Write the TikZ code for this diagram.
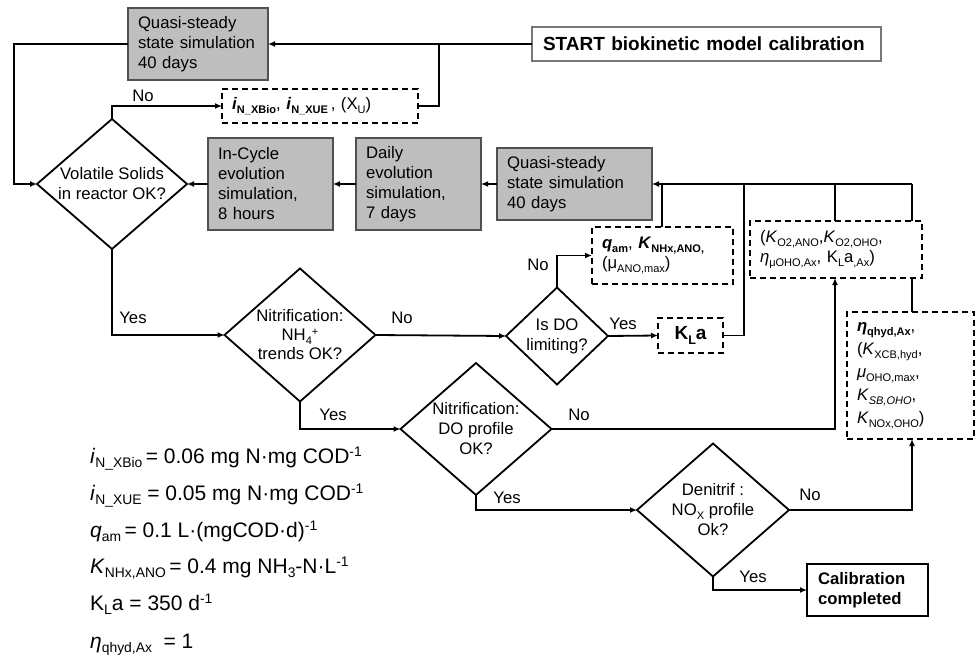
\documentclass[tikz,border=0pt]{standalone}
\usepackage{fontspec}
\setmainfont{Liberation Sans}
\usetikzlibrary{shapes.geometric,arrows.meta}
\definecolor{boxgray}{RGB}{190,190,190}
\definecolor{boxborder}{RGB}{80,80,80}
\definecolor{startborder}{RGB}{120,120,120}
\newcommand\fs{\fontsize{16.7}{20}\selectfont}
\newcommand\fbig{\fontsize{21}{25}\selectfont}
\makeatletter
\newcommand\smallsz{\fontsize{\strip@pt\dimexpr0.66\dimexpr\f@size pt\relax\relax}{1}\selectfont}
\newcommand\sbs[1]{\raisebox{-0.22em}{\smallsz #1}}
\newcommand\sps[1]{\raisebox{0.32em}{\smallsz #1}}
\makeatother
\tikzset{
  graybox/.style={draw=boxborder, line width=1.3pt, fill=boxgray, anchor=north west,
    inner xsep=10pt, inner ysep=0pt, outer sep=0pt, align=left, font=\fs},
  dbox/.style={draw, dash pattern=on 6pt off 4pt, line width=1.5pt, anchor=north west,
    inner xsep=10pt, inner ysep=0pt, outer sep=0pt, align=left, font=\fs},
  dia/.style={draw, diamond, line width=1.8pt, inner sep=0pt, outer sep=0pt},
  conn/.style={line width=1.8pt},
  arr/.style={line width=1.8pt, -{Latex[length=7pt,width=6pt]}},
  lab/.style={font=\fs, inner sep=0pt},
  eqn/.style={font=\fbig, anchor=base west, inner sep=0pt}
}
\begin{document}
\begin{tikzpicture}[x=1pt,y=-1pt]
\useasboundingbox (0,0) rectangle (976,655);

% boxes
\node[graybox, minimum width=140pt, minimum height=72pt, text width=120pt] (q1) at (128,8)
  {Quasi-steady\\state simulation\\40 days};
\node[draw=startborder, line width=1.2pt, anchor=north west, minimum width=349pt, minimum height=34pt,
  inner xsep=11pt, inner ysep=0pt, outer sep=0pt, text width=327pt, align=left,
  font=\fontsize{19}{22}\selectfont\bfseries] (start) at (532,27)
  {START biokinetic model calibration};
\node[dbox, minimum width=196pt, minimum height=34pt, text width=176pt, inner xsep=10pt] (in) at (222,89)
  {\textbf{\textit{i}\sbs{N\_XBio}}, \textbf{\textit{i}\sbs{N\_XUE}}\,, (X\sbs{U})};
\node[graybox, minimum width=125pt, minimum height=92pt, text width=105pt] (ic) at (208,138)
  {In-Cycle\\evolution\\simulation,\\8 hours};
\node[graybox, minimum width=125pt, minimum height=92pt, text width=105pt] (daily) at (356,138)
  {Daily\\evolution\\simulation,\\7 days};
\node[graybox, minimum width=155pt, minimum height=72pt, text width=135pt] (q2) at (497,148)
  {Quasi-steady\\state simulation\\40 days};
\node[dbox, minimum width=141pt, minimum height=57pt, text width=121pt] (qam) at (592,227)
  {\textbf{\textit{q}\sbs{am}}, \textbf{\textit{K}\sbs{NHx,ANO,}}\\(μ\sbs{ANO,max})};
\node[dbox, minimum width=172pt, minimum height=57pt, text width=152pt] (ko) at (750,221)
  {(\textit{K}\sbs{O2,ANO},\textit{K}\sbs{O2,OHO},\\\textit{η}\sbs{μOHO,Ax}, K\sbs{L}a\sbs{,Ax})};
\node[dbox, minimum width=65pt, minimum height=35pt, inner xsep=0pt, align=center,
  font=\fontsize{19}{22}\selectfont\bfseries] (kla) at (658,318)
  {K\sbs{L}a};
\node[dbox, minimum width=127pt, minimum height=127pt, text width=107pt, inner xsep=10pt,
  font=\fontsize{16.7}{23}\selectfont] (eta) at (847,312)
  {\textbf{\textit{η}\sbs{qhyd,Ax}},\\(\textit{K}\sbs{XCB,hyd},\\\textit{μ}\sbs{OHO,max},\\\textit{K}\sbs{\textit{SB,OHO}},\\\textit{K}\sbs{NOx,OHO})};
\node[draw, line width=1.8pt, anchor=north west, minimum width=121pt, minimum height=52pt,
  inner xsep=11pt, inner ysep=0pt, outer sep=0pt, text width=99pt, align=left,
  font=\fontsize{16.7}{20}\selectfont\bfseries] (cal) at (807,564)
  {Calibration\\completed};

% diamonds
\node[dia, minimum width=150pt, minimum height=130pt,
  label={[align=center, font=\fs]center:Volatile Solids\\in reactor OK?}] (vs) at (112,184) {};
\node[dia, minimum width=151pt, minimum height=133pt,
  label={[align=center, font=\fontsize{16.7}{19}\selectfont]center:Nitrification:\\NH\sbs{4}\sps{+}\\trends OK?}] (nh) at (300,335) {};
\node[dia, minimum width=102pt, minimum height=97pt,
  label={[align=center, font=\fs]center:Is DO\\limiting?}] (isdo) at (557,336) {};
\node[dia, minimum width=151pt, minimum height=132pt,
  label={[align=center, font=\fs]center:Nitrification:\\DO profile\\OK?}] (dop) at (476,429) {};
\node[dia, minimum width=152pt, minimum height=133pt,
  label={[align=center, font=\fs]center:Denitrif :\\NO\sbs{X} profile\\Ok?}] (den) at (713,510) {};

% junction coordinates
\coordinate (j1) at (439,44);
\coordinate (lc) at (14,44);
\coordinate (tr) at (912,184);
\coordinate (v1) at (662,184);
\coordinate (v2) at (744,184);
\coordinate (v3) at (835,184);

% connectors
\draw[arr] (start.west) -- (start.west -| q1.east);
\draw[conn] (in.east) -| (j1);
\draw[arr] (q1.west) -- (lc) |- (vs.west);
\draw[arr] (vs.north) |- (in.west);
\draw[arr] (ic.west) -- (vs.east);
\draw[arr] (daily.west) -- (ic.east);
\draw[arr] (q2.west) -- (daily.east);
\draw[arr] (tr) -- (tr -| q2.east);
\draw[conn] (v1) -- (v1 |- qam.north);
\draw[conn] (kla.east) -| (v2);
\draw[conn] (v3) -- (v3 |- ko.north);
\draw[conn] (tr) -- (tr |- ko.north);
\draw[conn] (tr |- ko.south) -- (tr |- eta.north);
\draw[arr] (vs.south) |- (nh.west);
\draw[arr] (nh.east) -- (isdo.west);
\draw[arr] (isdo.north) |- (qam.west);
\draw[arr] (isdo.east) -- (kla.west);
\draw[arr] (nh.south) |- (dop.west);
\draw[arr] (dop.east) -| (v3 |- ko.south);
\draw[arr] (dop.south) |- (den.west);
\draw[arr] (den.east) -| (tr |- eta.south);
\draw[arr] (den.south) |- (cal.west);

% connector labels
\node[lab] (l1) at (143,96) {No};
\node[lab] (l2) at (133,318) {Yes};
\node[lab] (l3) at (402,318) {No};
\node[lab] (l4) at (538,265) {No};
\node[lab] (l5) at (623,324) {Yes};
\node[lab] (l6) at (333,415) {Yes};
\node[lab] (l7) at (579,415) {No};
\node[lab] (l8) at (507,498) {Yes};
\node[lab] (l9) at (810,495) {No};
\node[lab] (l10) at (753,577) {Yes};

% parameter values
\node[eqn] (e1) at (90,463) {\textit{i}\sbs{N\_XBio}\,= 0.06 mg N·mg COD\sps{-1}};
\node[eqn] (e2) at (90,500) {\textit{i}\sbs{N\_XUE} = 0.05 mg N·mg COD\sps{-1}};
\node[eqn] (e3) at (90,537) {\textit{q}\sbs{am}\,= 0.1 L·(mgCOD·d)\sps{-1}};
\node[eqn] (e4) at (90,573) {\textit{K}\sbs{NHx,ANO}\,= 0.4 mg NH\sbs{3}-N·L\sps{-1}};
\node[eqn] (e5) at (90,610) {K\sbs{L}a = 350 d\sps{-1}};
\node[eqn] (e6) at (90,648) {\textit{η}\sbs{qhyd,Ax}\ \ = 1};
\end{tikzpicture}
\end{document}
